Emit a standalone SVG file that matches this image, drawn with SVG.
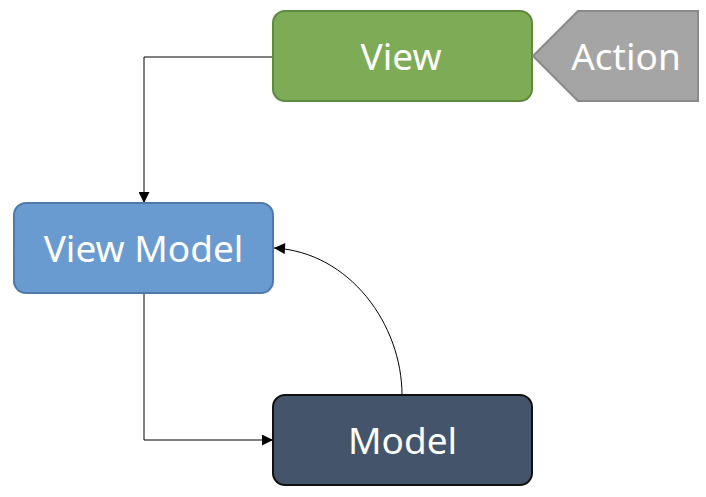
<svg xmlns="http://www.w3.org/2000/svg" width="706" height="497" viewBox="0 0 706 497">
<style>
.lbl{font-family:"Noto Sans","Open Sans",sans-serif;font-size:37px;fill:#fff;text-anchor:middle;dominant-baseline:central}
.con{fill:none;stroke:#000;stroke-width:1}
</style>
<defs>
<marker id="arr" viewBox="0 0 10 10" refX="10" refY="5" markerWidth="12" markerHeight="11" markerUnits="userSpaceOnUse" orient="auto">
<path d="M0,0 L10,5 L0,10 z" fill="#000"/>
</marker>
</defs>
<g id="connectors">
<path class="con" d="M273,57 H144 V203" marker-end="url(#arr)"/>
<path class="con" d="M144,293 V440 H273" marker-end="url(#arr)"/>
<path class="con" d="M402,395 C402,325 350,252 274,248" marker-end="url(#arr)"/>
</g>
<g id="view">
<rect x="273" y="11" width="259" height="90" rx="12" fill="#7dab56" stroke="#5e8a3e" stroke-width="2"/>
<text class="lbl" x="401" y="55">View</text>
</g>
<g id="action">
<polygon points="533,56 578,11 698,11 698,101 578,101" fill="#a5a5a5" stroke="#8a8a8a" stroke-width="2"/>
<text class="lbl" x="626" y="55">Action</text>
</g>
<g id="viewmodel">
<rect x="14" y="203" width="259" height="90" rx="12" fill="#6a9bd0" stroke="#4f7aa8" stroke-width="2"/>
<text class="lbl" x="143.5" y="247">View Model</text>
</g>
<g id="model">
<rect x="273" y="395" width="259" height="90" rx="12" fill="#44546a" stroke="#111" stroke-width="2"/>
<text class="lbl" x="402.5" y="439">Model</text>
</g>
</svg>
